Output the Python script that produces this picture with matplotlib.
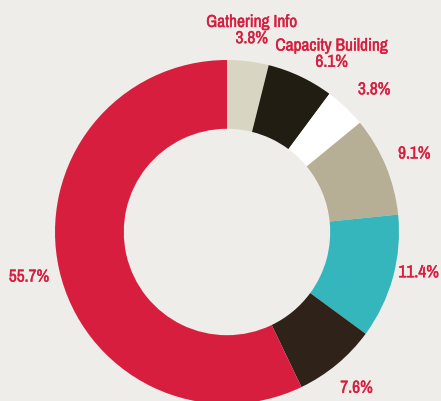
import numpy as np
import matplotlib.pyplot as plt
import matplotlib.patheffects as pe
from matplotlib import font_manager

# slice values clockwise from the top
values = [3.8, 6.1, 3.8, 9.1, 11.4, 7.6, 55.7]
labels = ["Gathering Info\n3.8%", "Capacity Building\n6.1%", "3.8%", "9.1%",
          "11.4%", "7.6%", "55.7%"]
colors = ["#d8d6c2", "#211d13", "#ffffff", "#b6ae95", "#35b6bc", "#2e2219", "#d71e3f"]

# look for a narrow / condensed face
names = sorted({f.name for f in font_manager.fontManager.ttflist})
narrow = [n for n in names if "Narrow" in n or "Condensed" in n]
fam = narrow[0] if narrow else "DejaVu Sans"

red = "#d71e3f"
bg = "#eeede9"
fig = plt.figure(figsize=(4.41, 4.02), dpi=100, facecolor=bg)
ax = fig.add_axes([0, 0, 1, 1])
ax.set_facecolor(bg)

wedges, texts = ax.pie(values, labels=labels, colors=colors, startangle=90,
                       counterclock=False, labeldistance=1.18,
                       wedgeprops=dict(width=0.4, linewidth=0),
                       textprops=dict(color=red, fontsize=12.5,
                                      family=[fam, "DejaVu Sans"],
                                      stretch="condensed",
                                      linespacing=1.1))
for t in texts:
    t.set_horizontalalignment("center")
    t.set_verticalalignment("center")
    t.set_path_effects([pe.withStroke(linewidth=0.3, foreground=red)])

# a few labels sit slightly off the slice middle
a = np.deg2rad(90 - 30.5)
texts[1].set_position((1.2 * np.cos(a), 1.2 * np.sin(a)))
a = np.deg2rad(90 - 46)
texts[2].set_position((1.19 * np.cos(a), 1.19 * np.sin(a)))
a = np.deg2rad(90 - 102)
texts[4].set_position((1.14 * np.cos(a), 1.14 * np.sin(a)))

# place pie centre at (227, 233) px with radius 172 px
r = 172
ax.set_xlim(-227 / r, (441 - 227) / r)
ax.set_ylim(-(402 - 233) / r, 233 / r)
ax.set_aspect("auto")
ax.axis("off")

fig.savefig("out.png", dpi=100, facecolor=bg)
